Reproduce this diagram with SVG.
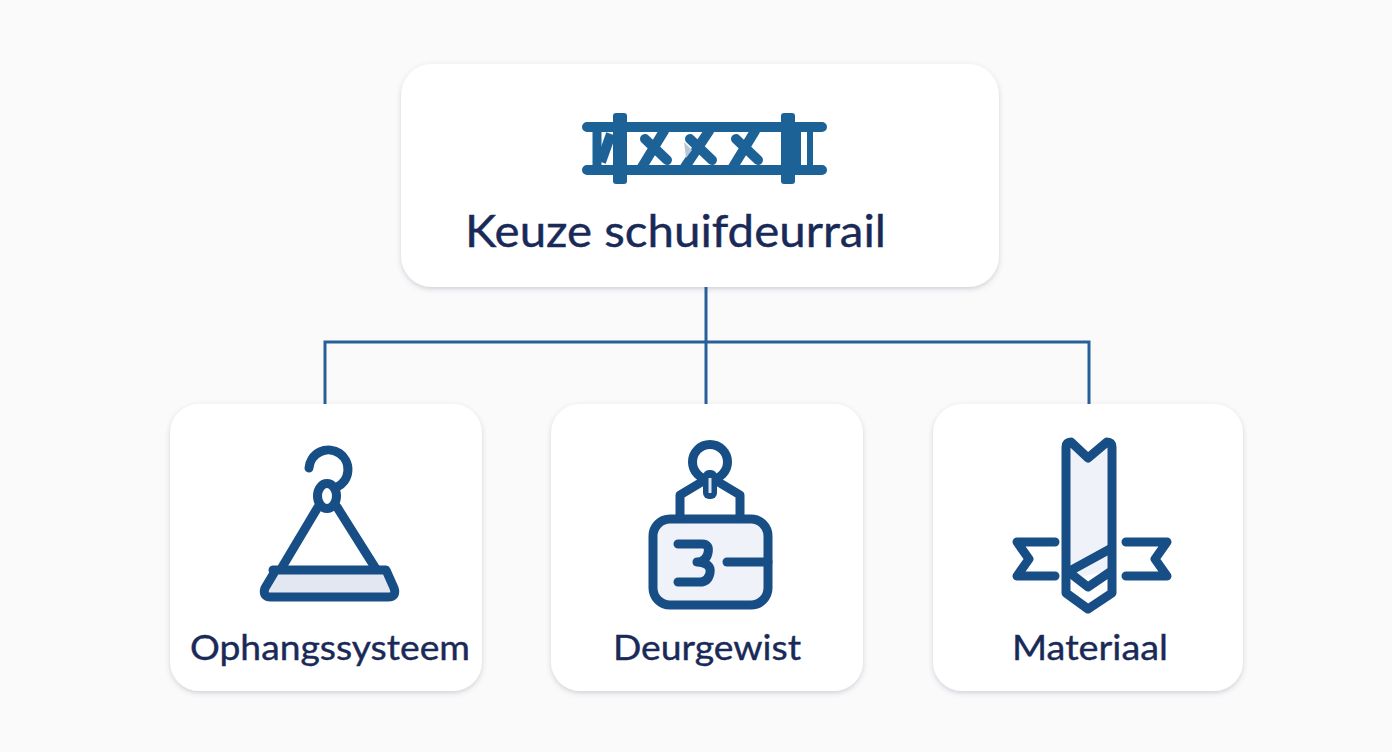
<svg xmlns="http://www.w3.org/2000/svg" width="1392" height="752" viewBox="0 0 1392 752">
<style>
.card{fill:#fff;filter:url(#sh)}
.t{font-family:Lato,Inter,"Liberation Sans",sans-serif;fill:#1a2a58;font-weight:400;stroke:#1a2a58;stroke-width:0.4}
.i{fill:none;stroke:#174e85;stroke-width:9;stroke-linecap:round;stroke-linejoin:round}
.r{fill:none;stroke:#1d6296;stroke-linecap:round;stroke-linejoin:round}
.c{fill:none;stroke:#26609b;stroke-width:3}
.l{fill:#f0f2f9}
</style>
<defs><filter id="sh" x="-10%" y="-10%" width="120%" height="125%"><feDropShadow dx="0" dy="2" stdDeviation="2.500" flood-color="#4a5468" flood-opacity="0.25"/></filter></defs>
<rect width="1392" height="752" fill="#fafafb"/>
<g id="connectors">
<path class="c" d="M706 287V405M325 405V342H1089V405"/>
</g>
<g id="node-root">
<rect class="card" x="401" y="64" width="598" height="223" rx="31"/>
<g class="r" stroke-width="10">
<path d="M587 127H822M587 170H822"/>
<path d="M597 130V167" stroke-width="9"/>
<path d="M601 162L611 134" stroke-width="10" stroke-linecap="butt"/>
<path d="M645 139L667 160M642 167L664 131M690 139L712 160M685 167L709 131M736 139L758 160M733 167L755 131" stroke-width="10"/>
<path d="M798 130V167M810 130V167" stroke-width="6" stroke-linecap="butt"/>
</g>
<rect x="613" y="113" width="14" height="71" rx="3" fill="#1d6296"/>
<rect x="781" y="113" width="14" height="71" rx="3" fill="#1d6296"/>
<path d="M684 142L692 150L686 158Z" fill="#b9c7d6"/>
<text class="t" x="465" y="247" font-size="45" textLength="421" lengthAdjust="spacingAndGlyphs">Keuze schuifdeurrail</text>
</g>
<g id="node-ophangsysteem">
<rect class="card" x="170" y="404" width="312" height="287" rx="29"/>
<path fill="#e3e7f1" d="M272 572H386L394 594H268Z"/>
<g class="i">
<path d="M309 468A19.500 19.500 0 1 1 337 487"/>
<ellipse cx="327" cy="496" rx="9.500" ry="12.500"/>
<path d="M318 507L281 569M337 507L376 569"/>
<path d="M273 570H386L394 588Q397 597 388 597H271Q262 597 265 588L274 573Z"/>
</g>
<text class="t" x="190" y="660" font-size="35" textLength="280" lengthAdjust="spacingAndGlyphs">Ophangssysteem</text>
</g>
<g id="node-deurgewist">
<rect class="card" x="551" y="404" width="312" height="287" rx="29"/>
<g class="i">
<rect class="l" x="653" y="519" width="115" height="86" rx="17"/>
<circle cx="710" cy="462" r="17.500"/>
<path d="M680 517V495L710 477L740 495V517"/>
<path d="M678 544H702Q710 544 708 553Q706 562 697 562Q712 563 710 573Q708 582 700 582H678"/>
<path d="M727 562H768"/>
</g>
<rect x="703" y="470" width="14" height="29" rx="6" fill="#174e85"/>
<rect x="708.500" y="478" width="3" height="15" fill="#dfe6f1"/>
<text class="t" x="613" y="660" font-size="35" textLength="188" lengthAdjust="spacingAndGlyphs">Deurgewist</text>
</g>
<g id="node-materiaal">
<rect class="card" x="933" y="404" width="310" height="287" rx="29"/>
<g class="i">
<path class="l" d="M1066 445L1088 458L1112 445V570L1066 580Z" stroke="none"/>
<path d="M1066 447Q1066 442 1071 442L1088 458L1107 442Q1112 442 1112 447V593L1088 609L1066 593Z"/>
<path d="M1068 572L1110 549M1070 573L1088 587L1110 572"/>
<path d="M1055 542H1017L1029 559L1017 576H1055M1126 542H1167L1155 559L1167 576H1126"/>
</g>
<text class="t" x="1012" y="660" font-size="35" textLength="156" lengthAdjust="spacingAndGlyphs">Materiaal</text>
</g>
</svg>
